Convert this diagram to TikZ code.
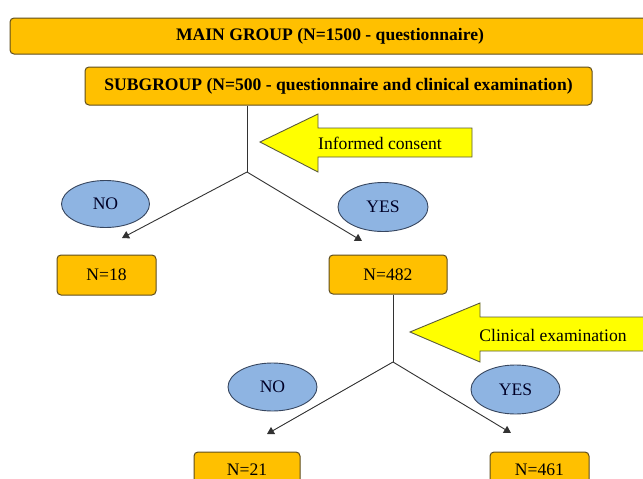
\documentclass[tikz,border=0pt]{standalone}
\usepackage{fontspec}
\setmainfont{Liberation Serif}
\usetikzlibrary{arrows.meta,shapes.geometric}
\definecolor{boxorange}{RGB}{255,192,0}
\definecolor{boxline}{RGB}{95,78,30}
\definecolor{ellblue}{RGB}{142,180,226}
\definecolor{ellline}{RGB}{55,70,95}
\definecolor{arrowyellow}{RGB}{255,255,0}
\definecolor{arrowline}{RGB}{90,90,60}
\definecolor{connline}{RGB}{50,50,50}
\tikzset{
  obox/.style={draw=boxline, fill=boxorange, rounded corners=4pt, line width=1pt, inner sep=0pt, font=\fontsize{17.6}{20}\selectfont},
  oval/.style={ellipse, draw=ellline, fill=ellblue, line width=0.9pt, inner sep=0pt, font=\fontsize{17.6}{20}\selectfont, text=black!85!blue},
  conn/.style={draw=connline, line width=0.9pt},
  arr/.style={conn, -{Triangle[length=7pt,width=8pt]}},
  bigarrow/.style={draw=arrowline, fill=arrowyellow, line width=0.9pt},
  lbl/.style={font=\fontsize{17.6}{20}\selectfont, inner sep=0pt}
}
\begin{document}
\begin{tikzpicture}[x=1pt,y=-1pt]
\useasboundingbox (0,0) rectangle (643,479);
\clip (0,0) rectangle (643,479);
\fill[white] (0,0) rectangle (643,479);

% boxes
\node[obox, minimum width=640pt, minimum height=36pt] (main) at (330,36) {\textbf{MAIN GROUP (N=1500 - questionnaire)}};
\node[obox, minimum width=507pt, minimum height=38pt] (sub) at (338.5,86) {\textbf{SUBGROUP (N=500 - questionnaire and clinical examination)}};
\node[obox, minimum width=99pt, minimum height=40pt] (n18) at (106.5,275) {N=18};
\node[obox, minimum width=118pt, minimum height=39pt] (n482) at (388,274.5) {N=482};
\node[obox, minimum width=106pt, minimum height=36pt] (n21) at (247,470) {N=21};
\node[obox, minimum width=99pt, minimum height=36pt] (n461) at (539.5,470) {N=461};

% ellipses
\node[oval, minimum width=88pt, minimum height=47pt] (no1) at (105.5,204) {NO};
\node[oval, minimum width=90pt, minimum height=49pt] (yes1) at (383,207) {YES};
\node[oval, minimum width=89pt, minimum height=48pt] (no2) at (272.5,387) {NO};
\node[oval, minimum width=89pt, minimum height=49pt] (yes2) at (515.5,389.5) {YES};

% big arrows
\draw[bigarrow] (260,142) -- (318,114) -- (318,128) -- (472,128) -- (472,157) -- (318,157) -- (318,172) -- cycle;
\node[lbl] (ic) at (380,143) {Informed consent};
\draw[bigarrow] (410,332) -- (480,303) -- (480,317) -- (660,317) -- (660,351) -- (480,351) -- (480,362) -- cycle;
\node[lbl] (ce) at (553,335) {Clinical examination};

% connectors
\coordinate (j1) at (247,172);
\coordinate (t1) at (122,238);
\coordinate (t2) at (362,241);
\draw[conn] (sub.south -| j1) -- (j1);
\draw[arr] (j1) -- (t1);
\draw[arr] (j1) -- (t2);

\coordinate (j2) at (393,362);
\coordinate (t3) at (267,434);
\coordinate (t4) at (511,433);
\draw[conn] (n482.south -| j2) -- (j2);
\draw[arr] (j2) -- (t3);
\draw[arr] (j2) -- (t4);
\end{tikzpicture}
\end{document}
